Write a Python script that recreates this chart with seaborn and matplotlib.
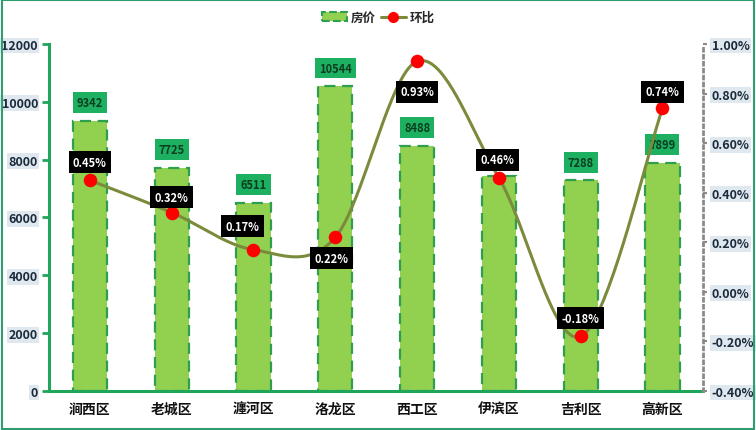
import numpy as np
import pandas as pd
import matplotlib
matplotlib.use("Agg")
import matplotlib.pyplot as plt
import seaborn as sns
from matplotlib.patches import Patch, Rectangle
from matplotlib.lines import Line2D
from matplotlib.ticker import FuncFormatter, MultipleLocator

districts = ["涧西区", "老城区", "瀍河区", "洛龙区", "西工区", "伊滨区", "吉利区", "高新区"]
prices = [9342, 7725, 6511, 10544, 8488, 7430, 7288, 7899]
mom = [0.45, 0.32, 0.17, 0.22, 0.93, 0.46, -0.18, 0.74]
show_price_label = [True, True, True, True, True, False, True, True]
# label offsets (points) for the percentage labels
pct_offsets = [(0, 13), (0, 11), (-8, 17), (-3, -15), (0, -22), (-1, 13), (0, 13), (0, 12)]

sns.set_style("white")
plt.rcParams['font.family'] = ['Noto Sans CJK SC', 'DejaVu Sans']
plt.rcParams['font.weight'] = 'bold'

BAR_FILL = "#92D050"
BAR_EDGE = "#2E9E4F"
AXIS_GREEN = "#1FA65A"
LINE_COL = "#7A8C3C"
LABEL_GREEN = "#1DB060"

fig = plt.figure(figsize=(7.56, 4.31), dpi=100)
ax = fig.add_axes([0.0648, 0.0905, 0.8656, 0.8051])

df = pd.DataFrame({"区": districts, "房价": prices})
sns.barplot(data=df, x="区", y="房价", ax=ax, color=BAR_FILL, width=0.42,
            edgecolor=BAR_EDGE, linewidth=1.6, linestyle=(0, (5, 3)), saturation=1)
for p in ax.patches:
    p.set_facecolor(BAR_FILL)

ax.set_xlim(-0.5, len(districts) - 0.5)
ax.set_ylim(0, 12000)
ax.yaxis.set_major_locator(MultipleLocator(2000))
ax.set_xlabel("")
ax.set_ylabel("")

# bar labels (the 伊滨区 label is hidden in the reference)
for i, (v, show) in enumerate(zip(prices, show_price_label)):
    if not show:
        continue
    ax.annotate(str(v), xy=(i, v), xytext=(0, 13), textcoords="offset points",
                ha="center", va="center", fontsize=8, fontweight="bold", color="#0b3d20",
                bbox=dict(boxstyle="square,pad=0.35", facecolor=LABEL_GREEN, edgecolor="none"),
                zorder=3)

# spines
for s in ["top", "right"]:
    ax.spines[s].set_visible(False)
ax.spines["left"].set_color(AXIS_GREEN)
ax.spines["left"].set_linewidth(2.2)
ax.spines["bottom"].set_color(AXIS_GREEN)
ax.spines["bottom"].set_linewidth(2.2)

ax.tick_params(axis="y", which="major", direction="out", length=5, width=2, color=AXIS_GREEN,
               labelsize=9, pad=3)
ax.set_xticks(range(len(districts)))
ax.set_xticklabels(districts, fontsize=10, fontweight="bold", color="#111111")
ax.tick_params(axis="x", which="major", length=0, pad=8)
ax.set_xticks(np.arange(-0.5, len(districts) + 0.5, 1), minor=True)
ax.tick_params(axis="x", which="minor", direction="out", length=4, width=2, color=AXIS_GREEN)
for lbl in ax.get_yticklabels():
    lbl.set_fontweight("bold")
    lbl.set_color("#1a2a3a")
    lbl.set_bbox(dict(facecolor="#DFE7EF", edgecolor="none", pad=1))

# secondary axis
ax2 = ax.twinx()
ax2.set_ylim(-0.4, 1.0)
ax2.yaxis.set_major_locator(MultipleLocator(0.2))
ax2.yaxis.set_major_formatter(FuncFormatter(lambda v, _: f"{v:.2f}%"))
for s in ["top", "left", "bottom"]:
    ax2.spines[s].set_visible(False)
ax2.spines["right"].set_color("#8a8a8a")
ax2.spines["right"].set_linewidth(2)
ax2.spines["right"].set_linestyle((0, (1, 1.5)))
ax2.tick_params(axis="y", direction="out", length=3, width=1.5, color="#8a8a8a", labelsize=9, pad=3)
for lbl in ax2.get_yticklabels():
    lbl.set_fontweight("bold")
    lbl.set_color("#1a2a3a")
    lbl.set_bbox(dict(facecolor="#DFE7EF", edgecolor="none", pad=1))

# smoothed line (Bezier smoothing through the data points)
xs = np.arange(len(mom), dtype=float)
ys = np.array(mom, dtype=float)
px = np.concatenate([[xs[0]], xs, [xs[-1]]])
py = np.concatenate([[ys[0]], ys, [ys[-1]]])
cx, cy = [], []
t = np.linspace(0, 1, 40)
for i in range(1, len(xs)):
    p0 = np.array([px[i - 1], py[i - 1]]); p1 = np.array([px[i], py[i]])
    p2 = np.array([px[i + 1], py[i + 1]]); p3 = np.array([px[i + 2], py[i + 2]])
    c1 = p1 + (p2 - p0) / 6.0
    c2 = p2 - (p3 - p1) / 6.0
    seg = ((1 - t)[:, None] ** 3) * p1 + 3 * ((1 - t) ** 2 * t)[:, None] * c1 \
        + 3 * ((1 - t) * t ** 2)[:, None] * c2 + (t ** 3)[:, None] * p2
    cx.extend(seg[:, 0]); cy.extend(seg[:, 1])
sns.lineplot(x=cx, y=cy, ax=ax2, color=LINE_COL, linewidth=2.2, sort=False, zorder=4)
sns.scatterplot(x=xs, y=ys, ax=ax2, color="#FF0000", s=95, edgecolor="#FF0000", linewidth=0, zorder=5)
ax2.set_xlim(-0.5, len(districts) - 0.5)
ax2.set_ylabel("")

for i, v in enumerate(mom):
    ax2.annotate(f"{v:.2f}%", xy=(i, v), xytext=pct_offsets[i], textcoords="offset points",
                 ha="center", va="center", fontsize=8, fontweight="bold", color="white",
                 bbox=dict(boxstyle="square,pad=0.4", facecolor="black", edgecolor="none"),
                 zorder=6)

# legend
handles = [Patch(facecolor=BAR_FILL, edgecolor=BAR_EDGE, linestyle="--", linewidth=1.5, label="房价"),
           Line2D([0], [0], color=LINE_COL, linewidth=2.2, marker="o", markersize=7,
                  markerfacecolor="#FF0000", markeredgecolor="#FF0000", label="环比")]
fig.legend(handles=handles, loc="center", bbox_to_anchor=(0.5, 0.957), ncol=2, frameon=False,
           prop={"weight": "bold", "size": 9}, handlelength=2.0, handletextpad=0.3, columnspacing=0.4)

# outer border
fig.patches.append(Rectangle((0.002, 0.003), 0.996, 0.994, transform=fig.transFigure,
                             fill=False, edgecolor="#2E9E70", linewidth=1.5))

fig.savefig("out.png", dpi=100)
